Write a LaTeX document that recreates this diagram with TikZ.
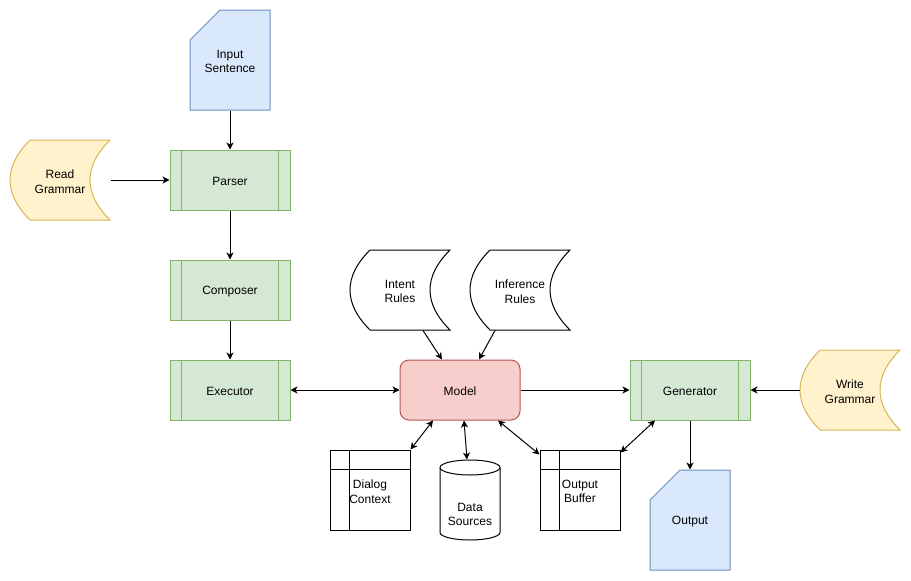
\documentclass[tikz,border=0pt]{standalone}
\usepackage{fontspec}
\setmainfont{Liberation Sans}
\usetikzlibrary{arrows.meta,calc}
\definecolor{bluef}{HTML}{DAE8FC}
\definecolor{blues}{HTML}{6C8EBF}
\definecolor{yellowf}{HTML}{FFF2CC}
\definecolor{yellows}{HTML}{D6B656}
\definecolor{greenf}{HTML}{D5E8D4}
\definecolor{greens}{HTML}{82B366}
\definecolor{redf}{HTML}{F8CECC}
\definecolor{reds}{HTML}{B85450}
\newcommand\tapepath{(20,0) -- (100,0) .. controls (73.33,26.67) and (73.33,53.33) .. (100,80) -- (20,80) .. controls (-6.67,53.33) and (-6.67,26.67) .. (20,0) -- cycle}
\begin{document}
\begin{tikzpicture}[x=1pt,y=-1pt,line width=1pt,
  lbl/.style={font=\fontsize{12}{14.5}\selectfont,align=center,text=black,inner sep=0pt},
  txt/.style={label={[lbl,yshift=-1.5pt]center:{#1}}},
  shp/.style={inner sep=0pt,minimum width=#1},
  proc/.style={draw=greens,fill=greenf,inner sep=0pt,minimum width=120pt,minimum height=60pt},
  tapebox/.style={inner sep=0pt,minimum width=100pt,minimum height=80pt},
  docblue/.style={draw=blues,fill=bluef},
  arr/.style={-{Stealth[length=7pt,width=7pt,inset=2pt]}},
  darr/.style={{Stealth[length=7pt,width=7pt,inset=2pt]}-{Stealth[length=7pt,width=7pt,inset=2pt]}}]
\useasboundingbox (0,0) rectangle (911,581);

% documents
\filldraw[docblue] (190,40) -- (220,10) -- (270,10) -- (270,110) -- (190,110) -- cycle;
\node[inner sep=0pt,minimum width=80pt,minimum height=100pt,txt={Input\\Sentence}] (in) at (230,60) {};
\filldraw[docblue] (650,500) -- (680,470) -- (730,470) -- (730,570) -- (650,570) -- cycle;
\node[inner sep=0pt,minimum width=80pt,minimum height=100pt,txt={Output}] (out) at (690,520) {};

% tapes
\begin{scope}[shift={(10,140)}]
\filldraw[draw=yellows,fill=yellowf] \tapepath;
\end{scope}
\node[tapebox,txt={Read\\Grammar}] (rg) at (60,180) {};
\begin{scope}[shift={(800,350)}]
\filldraw[draw=yellows,fill=yellowf] \tapepath;
\end{scope}
\node[tapebox,txt={Write\\Grammar}] (wg) at (850,390) {};
\begin{scope}[shift={(350,250)}]
\filldraw[draw=black,fill=white] \tapepath;
\end{scope}
\node[tapebox,txt={Intent\\Rules}] (ir) at (400,290) {};
\begin{scope}[shift={(470,250)}]
\filldraw[draw=black,fill=white] \tapepath;
\end{scope}
\node[tapebox,txt={Inference\\Rules}] (inf) at (520,290) {};

% processes
\node[proc,txt={Parser}] (parser) at (230,180) {};
\node[proc,txt={Composer}] (composer) at (230,290) {};
\node[proc,txt={Executor}] (exec) at (230,390) {};
\node[proc,txt={Generator}] (gen) at (690,390) {};
\foreach \n in {parser,composer,exec,gen}{
  \draw[greens] ($(\n.north west)+(12,0)$) -- ($(\n.south west)+(12,0)$);
  \draw[greens] ($(\n.north east)+(-12,0)$) -- ($(\n.south east)+(-12,0)$);
}

% model
\node[draw=reds,fill=redf,rounded corners=9pt,inner sep=0pt,minimum width=120pt,minimum height=60pt,txt={Model}] (model) at (460,390) {};

% internal storage
\node[draw=black,fill=white,inner sep=0pt,minimum width=80pt,minimum height=80pt] (dc) at (370,490) {};
\draw ($(dc.north west)+(20,0)$) -- ($(dc.south west)+(20,0)$);
\draw ($(dc.north west)+(0,20)$) -- ($(dc.north east)+(0,20)$);
\node[lbl] (dcl) at (370,491.5) {Dialog\\Context};
\node[draw=black,fill=white,inner sep=0pt,minimum width=80pt,minimum height=80pt] (ob) at (580,490) {};
\draw ($(ob.north west)+(20,0)$) -- ($(ob.south west)+(20,0)$);
\draw ($(ob.north west)+(0,20)$) -- ($(ob.north east)+(0,20)$);
\node[lbl] (obl) at (580,491.5) {Output\\Buffer};

% cylinder
\filldraw[draw=black,fill=white] (440,467.5) -- (440,532.5) arc[start angle=180,end angle=360,x radius=30pt,y radius=7.5pt] -- (500,467.5) arc[start angle=0,end angle=180,x radius=30pt,y radius=7.5pt] -- cycle;
\draw (440,467.5) arc[start angle=180,end angle=360,x radius=30pt,y radius=7.5pt];
\node[minimum width=60pt,minimum height=80pt,inner sep=0pt] (ds) at (470,500) {};
\node[lbl] (dsl) at (470,514.5) {Data\\Sources};

% connectors
\draw[arr] (in.south) -- (parser.north);
\draw[arr] (rg.east) -- (parser.west);
\draw[arr] (parser.south) -- (composer.north);
\draw[arr] (composer.south) -- (exec.north);
\draw[darr] (exec.east) -- (model.west);
\draw[arr] (model.east) -- (gen.west);
\draw[arr] (wg.west) -- (gen.east);
\draw[arr] (gen.south) -- (out.north);
\draw[arr] ($(ir.south)+(23,0)$) -- ($(model.north)+(-18,0)$);
\draw[arr] ($(inf.south)+(-25,0)$) -- ($(model.north)+(19,0)$);
\draw[darr] ($(model.south)+(-27,0)$) -- (dc.north east);
\draw[darr] ($(model.south)+(4,0)$) -- ($(ds.north)+(-3,0)$);
\draw[darr] ($(model.south)+(38,0)$) -- ($(ob.north west)+(0,5)$);
\draw[darr] ($(gen.south)+(-35,0)$) -- ($(ob.north east)+(0,3)$);
\end{tikzpicture}
\end{document}
